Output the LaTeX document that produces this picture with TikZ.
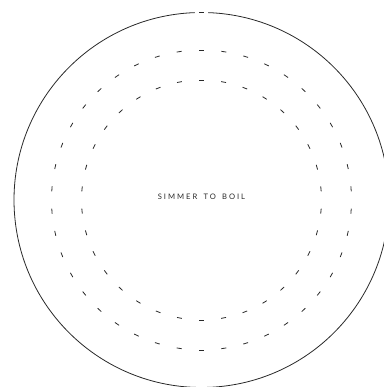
\documentclass[tikz,border=0pt]{standalone}
\usepackage{fontspec}
\newfontfamily\labelfont[LetterSpace=26,WordSpace=1.6]{Lato}
\usetikzlibrary{positioning}
\definecolor{inkgray}{RGB}{40,40,40}
\definecolor{textgray}{RGB}{40,40,40}

\begin{document}
\begin{tikzpicture}[x=1pt,y=1pt]
\def\cx{201.5}
\def\cy{187}
\def\rout{187.5}
\def\rmid{150}
\def\rin{120}
\useasboundingbox (0,0) rectangle (383,387);
%% Outer rim, open at the top with a small tick in the gap
\draw[inkgray,line width=0.8pt] (\cx,\cy) ++(92.1:\rout) arc[start angle=92.1,end angle=447.9,radius=\rout];
\draw[inkgray,line width=0.8pt] (\cx,\cy) ++(90.75:\rout) arc[start angle=90.75,end angle=89.25,radius=\rout];
%% Middle ring: 42 dashes
\foreach \i in {0,...,41}{
  \pgfmathsetmacro\a{90+\i*360/42}
  \draw[inkgray,line width=0.8pt] (\cx,\cy) ++(\a+0.95:\rmid) arc[start angle=\a+0.95,end angle=\a-0.95,radius=\rmid];
}
%% Inner ring: 34 dashes
\foreach \i in {0,...,33}{
  \pgfmathsetmacro\a{90+\i*360/34}
  \draw[inkgray,line width=0.8pt] (\cx,\cy) ++(\a+1.19:\rin) arc[start angle=\a+1.19,end angle=\a-1.19,radius=\rin];
}
%% Label
\node[font=\labelfont\fontsize{7.6}{9}\selectfont,text=textgray] (label) at (201.5,190){SIMMER TO BOIL};
\end{tikzpicture}
\end{document}
